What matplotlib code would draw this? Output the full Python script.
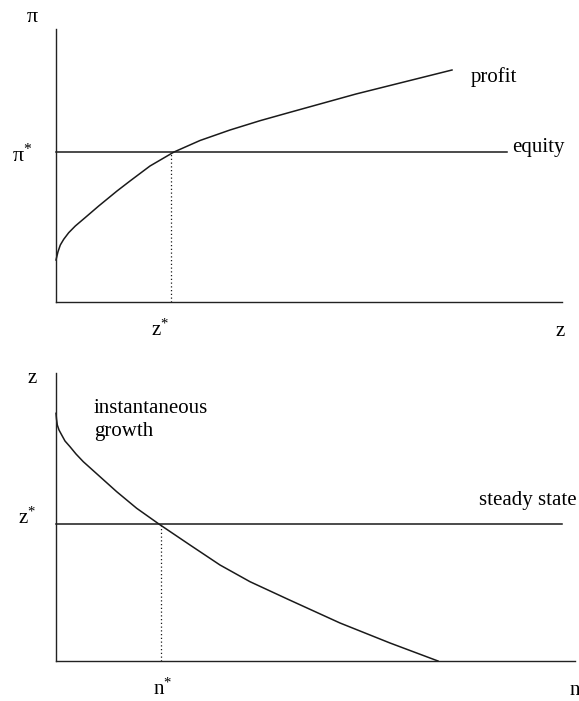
import matplotlib
matplotlib.use("Agg")
import matplotlib.pyplot as plt

plt.rcParams['font.family'] = ['Liberation Serif', 'DejaVu Serif']
plt.rcParams['mathtext.fontset'] = 'custom'
plt.rcParams['mathtext.rm'] = 'Liberation Serif'
plt.rcParams['mathtext.it'] = 'Liberation Serif'

# ---- data (units: axis-length units) ----
# top panel: profit curve vs z, equity level
profit_z = [0, 2, 4.3, 7.7, 12.7, 19.3, 29.3, 42.7, 61, 74, 94, 118, 144, 174, 204, 234, 300, 396]
profit_pi = [42, 50.3, 57, 62.7, 69.3, 76, 84.5, 96, 111, 121, 136, 150, 161.5, 172, 181.3, 189.7, 208, 232]
equity_pi = 150
equity_z_end = 451
z_star = 114.5
top_xmax, top_ymax = 506, 273

# bottom panel: instantaneous growth vs n, steady state
growth_n = [0, 0.5, 1.3, 3, 5.7, 9, 14, 20, 27.3, 44, 60.7, 80.7, 103.3, 134, 164, 194, 232, 284, 334, 382]
growth_z = [247.7, 242, 236, 231, 226, 220, 214.3, 207, 199.3, 184.3, 169.3, 152.7, 136.7, 116, 96, 79.3, 61.7, 38, 18, 0]
steady_z = 137
steady_n_end = 506
n_star = 105
bot_xmax, bot_ymax = 519, 288

W, H = 579, 701
fig = plt.figure(figsize=(W / 100, H / 100), dpi=100)

def make_ax(left, top, right, bottom):
    ax = fig.add_axes([left / W, (H - bottom) / H, (right - left) / W, (bottom - top) / H])
    ax.spines['top'].set_visible(False)
    ax.spines['right'].set_visible(False)
    for s in ('left', 'bottom'):
        ax.spines[s].set_linewidth(1.0)
        ax.spines[s].set_color('#222222')
    ax.set_xticks([])
    ax.set_yticks([])
    return ax

lc = '#1a1a1a'
fs = 15

# ---- top panel ----
ax1 = make_ax(56, 29, 562, 302)
ax1.set_xlim(0, top_xmax)
ax1.set_ylim(0, top_ymax)
ax1.plot(profit_z, profit_pi, color=lc, lw=1.1, clip_on=False)
ax1.plot([0, equity_z_end], [equity_pi, equity_pi], color=lc, lw=1.1, clip_on=False)
ax1.plot([z_star, z_star], [0, equity_pi], color=lc, lw=0.9, ls=(0, (1, 2)))
ax1.text(415, 220, 'profit', fontsize=fs, ha='left', va='baseline', clip_on=False)
ax1.text(456, 150, 'equity', fontsize=fs, ha='left', va='baseline', clip_on=False)
ax1.text(-24, 285, 'π', fontsize=fs + 1, ha='center', va='center', clip_on=False)
ax1.text(-44, 140, r'$\mathrm{π}^{*}$', fontsize=fs + 1, ha='left', va='baseline', clip_on=False)
ax1.text(z_star - 10, -34, r'$\mathrm{z}^{*}$', fontsize=fs, ha='center', va='baseline', clip_on=False)
ax1.text(504, -34, 'z', fontsize=fs, ha='center', va='baseline', clip_on=False)

# ---- bottom panel ----
ax2 = make_ax(56, 373, 575, 661)
ax2.set_xlim(0, bot_xmax)
ax2.set_ylim(0, bot_ymax)
ax2.plot(growth_n, growth_z, color=lc, lw=1.1, clip_on=False)
ax2.plot([0, steady_n_end], [steady_z, steady_z], color=lc, lw=1.1, clip_on=False)
ax2.plot([n_star, n_star], [0, steady_z], color=lc, lw=0.9, ls=(0, (1, 2)))
ax2.text(38, 248, 'instantaneous', fontsize=fs, ha='left', va='baseline', clip_on=False)
ax2.text(38, 225, 'growth', fontsize=fs, ha='left', va='baseline', clip_on=False)
ax2.text(423, 156, 'steady state', fontsize=fs, ha='left', va='baseline', clip_on=False)
ax2.text(-24, 278, 'z', fontsize=fs, ha='center', va='baseline', clip_on=False)
ax2.text(-38, 137, r'$\mathrm{z}^{*}$', fontsize=fs, ha='left', va='baseline', clip_on=False)
ax2.text(n_star + 2, -34, r'$\mathrm{n}^{*}$', fontsize=fs, ha='center', va='baseline', clip_on=False)
ax2.text(519, -34, 'n', fontsize=fs, ha='center', va='baseline', clip_on=False)

fig.savefig('out.png', dpi=100)
